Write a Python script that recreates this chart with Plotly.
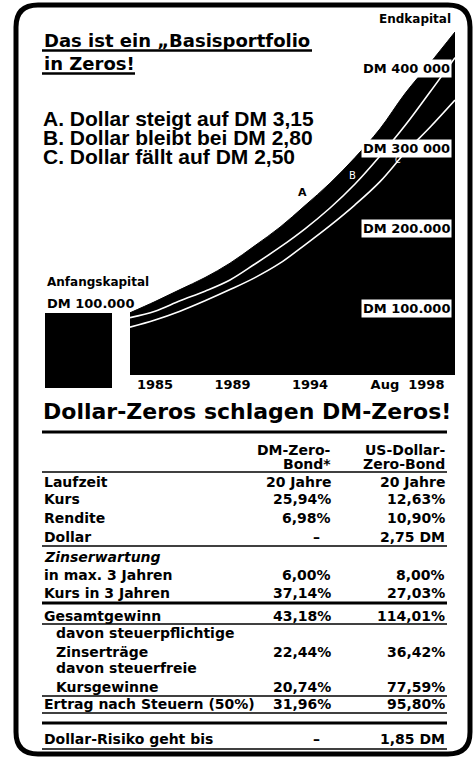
import plotly.graph_objects as go

W, H = 476, 763

# ---------------- data (values in 1000 DM) ----------------
steps = list(range(14))
endkapital_A = [94, 108, 123, 138, 156, 178, 201, 228, 256, 288, 324, 368, 406, 445]
endkapital_B = [88, 96, 109, 121, 135, 155, 176, 199, 225, 255, 290, 328, 370, 413]
endkapital_C = [76, 85, 96, 109, 123, 138, 156, 179, 203, 229, 258, 294, 326, 360]
anfangskapital = [100]

year_ticks = [1.0, 4.1, 7.2, 11.1]
year_labels = ["1985", "1989", "1994", "Aug\u00a0\u00a01998"]

level_values = [100, 200, 300, 400]
level_labels = ["DM 100.000", "DM 200.000", "DM 300 000", "DM 400 000"]

scenario_lines = ["A. Dollar steigt auf DM 3,15",
                  "B. Dollar bleibt bei DM 2,80",
                  "C. Dollar fällt auf DM 2,50"]

row_labels = ["Laufzeit", "Kurs", "Rendite", "Dollar", "Zinserwartung",
              "in max. 3 Jahren", "Kurs in 3 Jahren", "Gesamtgewinn",
              "davon steuerpflichtige", "Zinserträge", "davon steuerfreie",
              "Kursgewinne", "Ertrag nach Steuern (50%)", "Dollar-Risiko geht bis"]
dm_col = ["20 Jahre", "25,94%", "6,98%", "–", "", "6,00%", "37,14%", "43,18%",
          "", "22,44%", "", "20,74%", "31,96%", "–"]
usd_col = ["20 Jahre", "12,63%", "10,90%", "2,75 DM", "", "8,00%", "27,03%", "114,01%",
           "", "36,42%", "", "77,59%", "95,80%", "1,85 DM"]

# ---------------- layout helpers ----------------
def px(x):
    return x / W

def py(y):
    return 1 - y / H

FONT = "DejaVu Sans"
annotations = []
shapes = []

def text(t, x, y, size, anchor="left", weight="bold", color="black", style="normal",
         family=FONT):
    annotations.append(dict(text=t, x=px(x), y=py(y), xref="paper", yref="paper",
                            xanchor=anchor, yanchor="middle", showarrow=False,
                            font=dict(family=family, size=size, color=color,
                                      weight=weight, style=style)))

def hline(x0, x1, y, w):
    shapes.append(dict(type="line", xref="paper", yref="paper",
                       x0=px(x0), x1=px(x1), y0=py(y), y1=py(y),
                       line=dict(color="black", width=w)))

fig = go.Figure()

# Anfangskapital block
fig.add_trace(go.Bar(x=[0], y=anfangskapital, width=[1],
                     marker=dict(color="black", line=dict(width=0)),
                     xaxis="x2", yaxis="y2", showlegend=False, hoverinfo="skip"))

# scenario curves
fig.add_trace(go.Scatter(x=steps, y=endkapital_A, mode="lines", fill="tozeroy",
                         fillcolor="black", line=dict(color="black", width=1, shape="spline"),
                         showlegend=False, hoverinfo="skip"))
fig.add_trace(go.Scatter(x=steps, y=endkapital_B, mode="lines",
                         line=dict(color="white", width=1.6, shape="spline"),
                         showlegend=False, hoverinfo="skip"))
fig.add_trace(go.Scatter(x=steps, y=endkapital_C, mode="lines",
                         line=dict(color="white", width=1.6, shape="spline"),
                         showlegend=False, hoverinfo="skip"))

# level labels (white boxes)
for v, lab in zip(level_values, level_labels):
    annotations.append(dict(text=lab, x=px(452), y=v, xref="paper", yref="y",
                            xanchor="right", yanchor="middle", showarrow=False,
                            bgcolor="white", borderpad=1,
                            font=dict(family=FONT, size=13, color="black", weight="bold")))

# curve letters
annotations.append(dict(text="A", x=6.9, y=245, xref="x", yref="y", showarrow=False,
                        font=dict(family=FONT, size=11, color="black", weight="bold")))
annotations.append(dict(text="B", x=8.88, y=266, xref="x", yref="y", showarrow=False,
                        font=dict(family=FONT, size=10, color="white")))
annotations.append(dict(text="C", x=10.7, y=285, xref="x", yref="y", showarrow=False,
                        font=dict(family=FONT, size=8, color="white")))

# header texts
text("Das ist ein „Basisportfolio", 42, 41, 18)
text("in Zeros!", 42, 64, 18)
hline(42, 312, 50.5, 2.5)
hline(42, 135, 73.5, 2.5)
for i, s in enumerate(scenario_lines):
    text(s, 41, 118 + i * 19.2, 21, family="Liberation Sans, Arial")
text("Endkapital", 453, 19, 12, anchor="right")
text("Anfangskapital", 45, 282, 12)
text("DM 100.000", 45, 304, 13)

# table
text("Dollar-Zeros schlagen DM-Zeros!", 41, 411, 22)
text("DM-Zero-", 333, 450, 14, anchor="right")
text("Bond*", 333, 464, 14, anchor="right")
text("US-Dollar-", 447, 450, 14, anchor="right")
text("Zero-Bond", 447, 464, 14, anchor="right")

row_y = [482, 499, 518, 537, 557, 575, 593, 616, 633, 652, 668, 687, 704, 739]
indent = {8, 9, 10, 11}
for i, (lab, a, b) in enumerate(zip(row_labels, dm_col, usd_col)):
    x0 = 54 if i in indent else 42
    text(lab, x0, row_y[i], 14, style="italic" if lab == "Zinserwartung" else "normal")
    if a == "–":
        text(a, 316, row_y[i], 14, anchor="center")
    elif a:
        text(a, 333, row_y[i], 14, anchor="right")
    if b:
        text(b, 447, row_y[i], 14, anchor="right")

for y, w in [(432, 3), (472, 1.5), (546, 1.5), (603, 3), (624, 1.5), (696, 1.5),
             (713, 1.5), (723, 3), (749, 1.5)]:
    hline(42, 447, y, w)

# rounded frame
L, R, T, B, r = 16, 470, 5, 754, 22
pts = lambda x, y: f"{px(x):.5f},{py(y):.5f}"
path = (f"M {pts(L + r, T)} L {pts(R - r, T)} Q {pts(R, T)} {pts(R, T + r)} "
        f"L {pts(R, B - r)} Q {pts(R, B)} {pts(R - r, B)} "
        f"L {pts(L + r, B)} Q {pts(L, B)} {pts(L, B - r)} "
        f"L {pts(L, T + r)} Q {pts(L, T)} {pts(L + r, T)} Z")
shapes.append(dict(type="path", path=path, xref="paper", yref="paper",
                   line=dict(color="black", width=5)))

fig.update_layout(
    width=W, height=H, margin=dict(l=0, r=0, t=0, b=0),
    paper_bgcolor="white", plot_bgcolor="rgba(0,0,0,0)",
    showlegend=False,
    xaxis=dict(domain=[px(130), px(455)], range=[0, 13], showgrid=False, zeroline=False,
               showline=False, ticks="", tickvals=year_ticks, ticktext=year_labels,
               tickfont=dict(family=FONT, size=13, color="black", weight="bold"),
               fixedrange=True),
    yaxis=dict(domain=[py(375), py(20)], range=[(388 - 375) / 0.8, (388 - 20) / 0.8],
               visible=False, fixedrange=True),
    xaxis2=dict(domain=[px(45), px(112)], range=[-0.5, 0.5], visible=False, anchor="y2"),
    yaxis2=dict(domain=[py(388), py(20)], range=[0, 368 / 0.75], visible=False, anchor="x2"),
    annotations=annotations,
    shapes=shapes,
)

fig.write_html("out.html", config={"displayModeBar": False},
               post_script="document.body.style.margin='0';")
